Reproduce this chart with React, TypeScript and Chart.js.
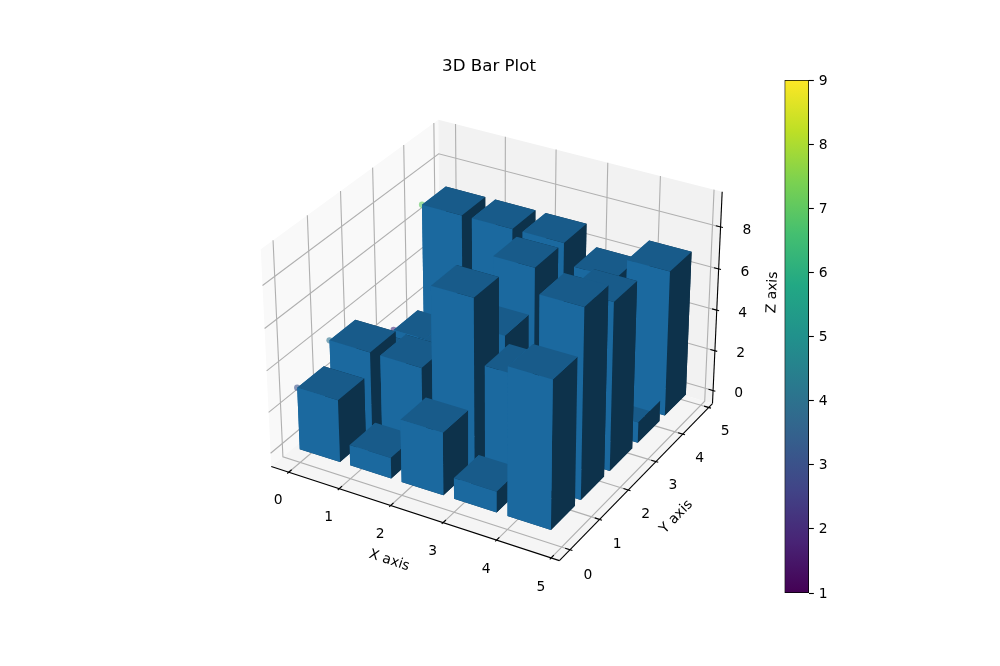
import React, { useEffect, useRef } from "react";
import { Chart, registerables } from "chart.js";
Chart.register(...registerables);

const chartTitle = "3D Bar Plot";
const xAxisLabel = "X axis";
const yAxisLabel = "Y axis";
const zAxisLabel = "Z axis";
const xPositions = [0, 1, 2, 3, 4];
const yPositions = [0, 1, 2, 3, 4];
const barHeightsRow0 = [3, 1, 3, 1, 7];
const barHeightsRow1 = [4, 4, 8, 5, 9];
const barHeightsRow2 = [2, 3, 5, 3, 8];
const barHeightsRow3 = [2, 3, 7, 3, 1];
const barHeightsRow4 = [7, 7, 7, 6, 7];
const barHeights = [barHeightsRow0, barHeightsRow1, barHeightsRow2, barHeightsRow3, barHeightsRow4];
const barWidth = 0.8;
const xTicks = [0, 1, 2, 3, 4, 5];
const yTicks = [0, 1, 2, 3, 4, 5];
const zTicks = [0, 2, 4, 6, 8];
const colorbarTicks = [1, 2, 3, 4, 5, 6, 7, 8, 9];
const viridisStops = ["#440154", "#482475", "#414487", "#355f8d", "#2a788e", "#21918c", "#22a884", "#44bf70", "#7ad151", "#bddf26", "#fde725"];

const xLim = [-0.24, 5.04];
const yLim = [-0.24, 5.04];
const zLim = [-0.45, 9.45];
const TICK_F = 0.75;
const LABEL_F = 1.6;
const TICK_LABEL_SHIFT = 6.5;
const FONT = "'DejaVu Sans'";
const PT = 100 / 72;

type V3 = [number, number, number];
const sub = (a: V3, b: V3): V3 => [a[0] - b[0], a[1] - b[1], a[2] - b[2]];
const dot = (a: V3, b: V3) => a[0] * b[0] + a[1] * b[1] + a[2] * b[2];
const cross = (a: V3, b: V3): V3 => [a[1] * b[2] - a[2] * b[1], a[2] * b[0] - a[0] * b[2], a[0] * b[1] - a[1] * b[0]];
const unit = (a: V3): V3 => { const n = Math.sqrt(dot(a, a)); return [a[0] / n, a[1] / n, a[2] / n]; };

const scaleBox = 1.8294640721620434 / Math.sqrt(41);
const box: V3 = [4 * scaleBox, 4 * scaleBox, 3 * scaleBox];
const el = (30 * Math.PI) / 180, az = (-60 * Math.PI) / 180;
const R: V3 = [box[0] / 2, box[1] / 2, box[2] / 2];
const E: V3 = [R[0] + 10 * Math.cos(el) * Math.cos(az), R[1] + 10 * Math.cos(el) * Math.sin(az), R[2] + 10 * Math.sin(el)];
const w = unit(sub(E, R));
const u = unit(cross([0, 0, 1], w));
const v = cross(w, u);

function project(p: V3) {
  const q = sub([
    ((p[0] - xLim[0]) / (xLim[1] - xLim[0])) * box[0],
    ((p[1] - yLim[0]) / (yLim[1] - yLim[0])) * box[1],
    ((p[2] - zLim[0]) / (zLim[1] - zLim[0])) * box[2],
  ], E);
  const zv = dot(w, q);
  return { x: dot(u, q) / -zv, y: dot(v, q) / -zv, depth: 10 / zv };
}

const dX = (xLim[1] - xLim[0]) / 12, dY = (yLim[1] - yLim[0]) / 12, dZ = (zLim[1] - zLim[0]) / 12;
const x0 = xLim[0] - dX / 4, x1 = xLim[1] + dX / 4;
const y0 = yLim[0] - dY / 4, y1 = yLim[1] + dY / 4;
const z0 = zLim[0] - dZ / 4, z1 = zLim[1] + dZ / 4;

function hexRgb(h: string) { return [1, 3, 5].map((i) => parseInt(h.slice(i, i + 2), 16)); }
function viridis(t: number) {
  const f = Math.max(0, Math.min(1, t)) * (viridisStops.length - 1);
  const i = Math.min(Math.floor(f), viridisStops.length - 2);
  const a = hexRgb(viridisStops[i]), b = hexRgb(viridisStops[i + 1]);
  return a.map((c, k) => Math.round(c + (b[k] - c) * (f - i)));
}

const BASE = [31, 119, 180];
const light = unit([Math.cos(-135 * Math.PI / 180) * Math.cos(19.4712 * Math.PI / 180), Math.sin(-135 * Math.PI / 180) * Math.cos(19.4712 * Math.PI / 180), Math.sin(19.4712 * Math.PI / 180)]);
function shaded(n: V3) {
  const k = 0.3 + 0.7 * ((dot(n, light) + 1) / 2);
  return `rgb(${BASE.map((c) => Math.round(c * k)).join(",")})`;
}

function polyDataset(pts: V3[], color: string) {
  const data = pts.concat([pts[0]]).map((p) => { const q = project(p); return { x: q.x, y: q.y }; });
  return { data, showLine: true, fill: "shape", backgroundColor: color, borderWidth: 0, pointRadius: 0, tension: 0, clip: false };
}
function lineDataset(pts: V3[], color: string, width: number) {
  const data = pts.map((p) => { const q = project(p); return { x: q.x, y: q.y }; });
  return { data, showLine: true, fill: false, borderColor: color, borderWidth: width, pointRadius: 0, tension: 0, clip: false };
}

function barFaces() {
  const faces: { pts: V3[]; n: V3; depth: number }[] = [];
  yPositions.forEach((y, j) => xPositions.forEach((x, i) => {
    const h = barHeights[j][i];
    const a = x, b = x + barWidth, c = y, d = y + barWidth;
    const list: [V3[], V3][] = [
      [[[a, c, 0], [b, c, 0], [b, d, 0], [a, d, 0]], [0, 0, -1]],
      [[[a, c, h], [b, c, h], [b, d, h], [a, d, h]], [0, 0, 1]],
      [[[a, c, 0], [b, c, 0], [b, c, h], [a, c, h]], [0, -1, 0]],
      [[[a, d, 0], [b, d, 0], [b, d, h], [a, d, h]], [0, 1, 0]],
      [[[a, c, 0], [a, d, 0], [a, d, h], [a, c, h]], [-1, 0, 0]],
      [[[b, c, 0], [b, d, 0], [b, d, h], [b, c, h]], [1, 0, 0]],
    ];
    list.forEach(([pts, n]) => {
      const depth = pts.reduce((s, p) => s + project(p).depth, 0) / 4;
      faces.push({ pts, n, depth });
    });
  }));
  faces.sort((p, q) => q.depth - p.depth);
  return faces;
}

function buildDatasets() {
  const out: any[] = [];
  out.push(polyDataset([[x0, y0, z0], [x0, y1, z0], [x0, y1, z1], [x0, y0, z1]], "rgb(249,249,249)"));
  out.push(polyDataset([[x0, y1, z0], [x1, y1, z0], [x1, y1, z1], [x0, y1, z1]], "rgb(242,242,242)"));
  out.push(polyDataset([[x0, y0, z0], [x1, y0, z0], [x1, y1, z0], [x0, y1, z0]], "rgb(245,245,245)"));
  const grid = "#b0b0b0", gw = 0.8 * PT;
  xTicks.forEach((t) => out.push(lineDataset([[t, y0, z0], [t, y1, z0], [t, y1, z1]], grid, gw)));
  yTicks.forEach((t) => out.push(lineDataset([[x1, t, z0], [x0, t, z0], [x0, t, z1]], grid, gw)));
  zTicks.forEach((t) => out.push(lineDataset([[x0, y0, t], [x0, y1, t], [x1, y1, t]], grid, gw)));
  out.push(lineDataset([[x0, y0, z0], [x1, y0, z0]], "#000", gw));
  out.push(lineDataset([[x1, y0, z0], [x1, y1, z0]], "#000", gw));
  out.push(lineDataset([[x1, y1, z0], [x1, y1, z1]], "#000", gw));
  xTicks.forEach((t) => out.push(lineDataset([[t, y0 + 0.2 * dY, z0], [t, y0 - 0.1 * dY, z0]], "#000", gw)));
  yTicks.forEach((t) => out.push(lineDataset([[x1 - 0.2 * dX, t, z0], [x1 + 0.1 * dX, t, z0]], "#000", gw)));
  zTicks.forEach((t) => out.push(lineDataset([[x1 - 0.2 * dX, y1, t], [x1 + 0.1 * dX, y1, t]], "#000", gw)));
  const dots: { x: number; y: number }[] = [];
  const dotColors: string[] = [];
  yPositions.forEach((y, j) => xPositions.forEach((x, i) => {
    const h = barHeights[j][i];
    const q = project([x, y, h]);
    dots.push({ x: q.x, y: q.y });
    const c = viridis((h - 1) / 8);
    dotColors.push(`rgba(${c.join(",")},0.6)`);
  }));
  out.push({ data: dots, showLine: false, pointRadius: 3.1, pointBackgroundColor: dotColors, pointBorderWidth: 0, clip: false });
  barFaces().forEach((f) => out.push(polyDataset(f.pts, shaded(f.n))));
  return out.reverse();
}

const textPlugin = {
  id: "axisText",
  afterDraw(chart: any) {
    const { ctx, scales } = chart;
    const px = (p: V3) => { const q = project(p); return [scales.x.getPixelForValue(q.x), scales.y.getPixelForValue(q.y)]; };
    const put = (s: string, p: V3, size = 10 * PT, rot = 0, shift = 0) => {
      const [a, b] = px(p);
      ctx.save();
      ctx.translate(a, b + shift);
      ctx.rotate(rot);
      ctx.font = `${size}px ${FONT}`;
      ctx.fillStyle = "#000";
      ctx.textAlign = "center";
      ctx.textBaseline = "middle";
      ctx.fillText(s, 0, 0);
      ctx.restore();
    };
    const ang = (p: V3, q: V3) => {
      const [a, b] = px(p), [c, d] = px(q);
      let t = Math.atan2(d - b, c - a);
      if (t > Math.PI / 2) t -= Math.PI;
      if (t < -Math.PI / 2) t += Math.PI;
      return t;
    };
    xTicks.forEach((t) => put(String(t), [t, y0 - TICK_F * dY, z0 - TICK_F * dZ], 10 * PT, 0, TICK_LABEL_SHIFT));
    yTicks.forEach((t) => put(String(t), [x1 + TICK_F * dX, t, z0 - TICK_F * dZ], 10 * PT, 0, TICK_LABEL_SHIFT));
    zTicks.forEach((t) => put(String(t), [x1 + TICK_F * dX, y1 + TICK_F * dY, t], 10 * PT, 0, TICK_LABEL_SHIFT));
    const xm = (x0 + x1) / 2, ym = (y0 + y1) / 2, zm = (z0 + z1) / 2;
    put(xAxisLabel, [xm, y0 - LABEL_F * dY, z0 - LABEL_F * dZ], 10 * PT, ang([x0, y0, z0], [x1, y0, z0]));
    put(yAxisLabel, [x1 + LABEL_F * dX, ym, z0 - LABEL_F * dZ], 10 * PT, ang([x1, y0, z0], [x1, y1, z0]));
    put(zAxisLabel, [x1 + LABEL_F * dX, y1 + LABEL_F * dY, zm], 10 * PT, ang([x1, y1, z0], [x1, y1, z1]));
    ctx.save();
    ctx.font = `${12 * PT}px ${FONT}`;
    ctx.fillStyle = "#000";
    ctx.textAlign = "center";
    ctx.textBaseline = "alphabetic";
    ctx.fillText(chartTitle, (chart.chartArea.left + chart.chartArea.right) / 2, chart.chartArea.top - 6 * PT - 1);
    ctx.restore();
  },
};

export default function App() {
  const mainRef = useRef<HTMLCanvasElement>(null);
  const barRef = useRef<HTMLCanvasElement>(null);
  useEffect(() => {
    const main = new Chart(mainRef.current!, {
      type: "scatter",
      data: { datasets: buildDatasets() },
      options: {
        animation: false,
        responsive: false,
        layout: { padding: { left: 232.5, right: 1000 - 745.5, top: 80, bottom: 73 } },
        scales: {
          x: { type: "linear", display: false, min: -0.095, max: 0.09 },
          y: { type: "linear", display: false, min: -0.095, max: 0.09 },
        },
        plugins: { legend: { display: false }, tooltip: { enabled: false } },
        events: [],
      },
      plugins: [textPlugin],
    } as any);
    const bar = new Chart(barRef.current!, {
      type: "bar",
      data: {
        labels: ["colorbar"],
        datasets: [{
          data: [[colorbarTicks[0], colorbarTicks[colorbarTicks.length - 1]]],
          barPercentage: 1,
          categoryPercentage: 1,
          borderColor: "#000",
          borderWidth: 1.1,
          borderSkipped: false,
          backgroundColor: (ctx: any) => {
            const area = ctx.chart.chartArea;
            if (!area) return viridisStops[0];
            const g = ctx.chart.ctx.createLinearGradient(0, area.bottom, 0, area.top);
            viridisStops.forEach((c, i) => g.addColorStop(i / (viridisStops.length - 1), c));
            return g;
          },
        }],
      },
      options: {
        animation: false,
        responsive: false,
        layout: { padding: { left: 84.5, right: 161, top: 80, bottom: 73 } },
        scales: {
          x: { display: false },
          y: {
            position: "right",
            min: 1,
            max: 9,
            afterFit: (s: any) => { s.width = 30; },
            afterBuildTicks: (s: any) => { s.ticks = colorbarTicks.map((value) => ({ value })); },
            grid: { drawOnChartArea: false, tickLength: 3.5 * PT, tickColor: "#000", tickWidth: 1.1 },
            border: { display: false },
            ticks: { color: "#000", padding: 4.9, labelOffset: 1, font: { family: "DejaVu Sans", size: 10 * PT } },
          },
        },
        plugins: { legend: { display: false }, tooltip: { enabled: false } },
        events: [],
      },
    } as any);
    return () => { main.destroy(); bar.destroy(); };
  }, []);
  return (
    <div style={{ position: "fixed", left: 0, top: 0, width: 1000, height: 666, background: "#fff" }}>
      <canvas ref={mainRef} width={1000} height={666} style={{ position: "absolute", left: 0, top: 0, width: 1000, height: 666 }} />
      <canvas ref={barRef} width={300} height={666} style={{ position: "absolute", left: 700, top: 0, width: 300, height: 666 }} />
    </div>
  );
}
